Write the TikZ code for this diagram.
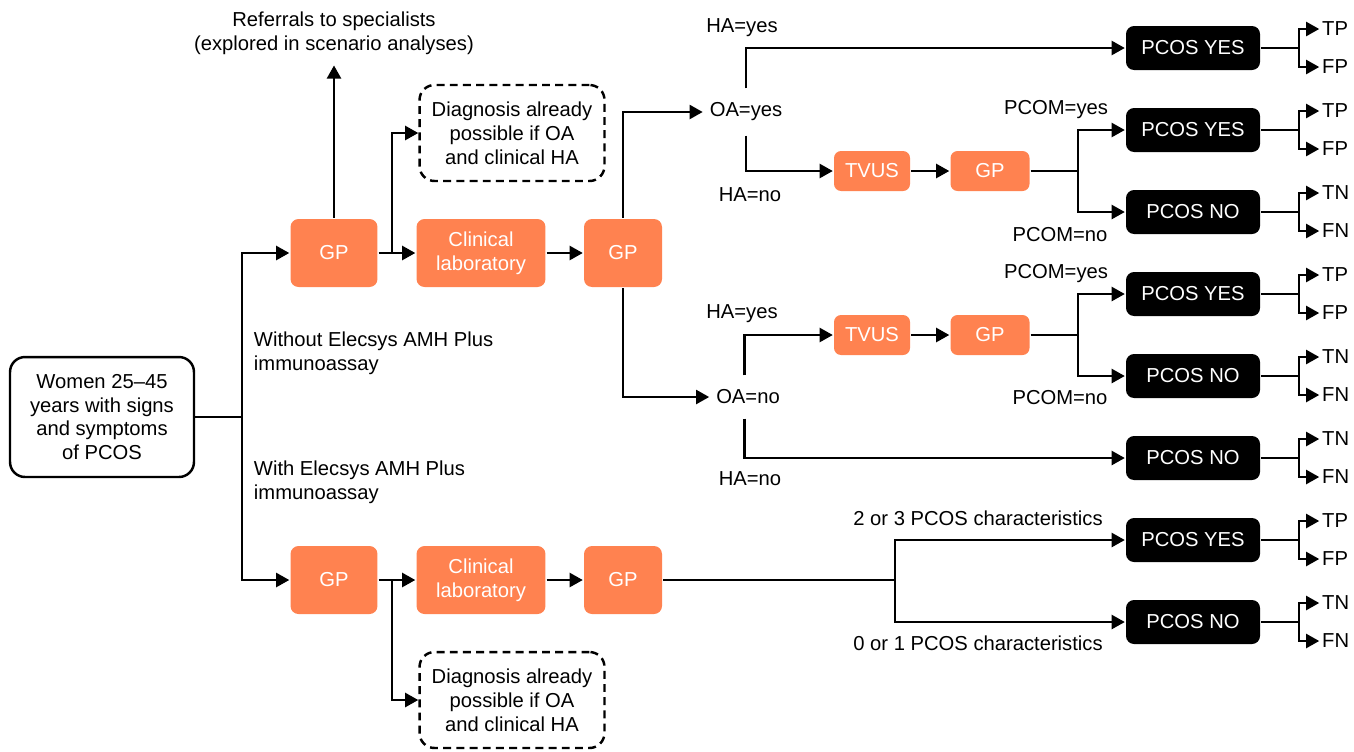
\documentclass[tikz,border=0pt]{standalone}
\usepackage{fontspec}
\setmainfont{Liberation Sans}
\usetikzlibrary{arrows.meta}
\definecolor{pcorange}{RGB}{255,130,80}
\tikzset{
  every node/.style={font=\fontsize{11.5}{13.6}\selectfont},
  arr/.style={-{Triangle[length=7.5pt,width=8pt]}},
  startbox/.style={draw,line width=1.4pt,rounded corners=0.3cm,minimum width=3.68cm,minimum height=2.4cm,align=center,inner sep=0pt},
  dashbox/.style={draw,line width=1.4pt,dash pattern=on 4.5pt off 3pt,rounded corners=0.3cm,minimum width=3.7cm,minimum height=1.92cm,align=center,inner sep=0pt},
  carebox/.style={fill=pcorange,text=white,rounded corners=0.16cm,align=center,inner sep=0pt,minimum height=1.36cm},
  testbox/.style={fill=pcorange,text=white,rounded corners=0.14cm,inner sep=0pt,minimum height=0.8cm},
  resultbox/.style={fill=black,text=white,rounded corners=0.16cm,inner sep=0pt,minimum width=2.68cm,minimum height=0.88cm},
  lbl/.style={inner sep=1pt,align=left}
}
\begin{document}
\begin{tikzpicture}[x=0.02cm,y=-0.02cm,line width=1.4pt]
   \useasboundingbox (0,0) rectangle (1354,751);

   \node[startbox] (women) at (102,417) {Women 25--45\\years with signs\\and symptoms\\of PCOS};
   \coordinate (trunk) at (242,417);

   \node[carebox,minimum width=1.74cm] (gp1) at (334,253) {GP};
   \node[carebox,minimum width=2.58cm] (lab1) at (481,253) {Clinical\\laboratory};
   \node[carebox,minimum width=1.56cm] (gp3) at (623,253) {GP};
   \node[dashbox] (dx1) at (512,133) {Diagnosis already\\possible if OA\\and clinical HA};
   \node[align=center] (ref) at (334,33) {Referrals to specialists\\(explored in scenario analyses)};
   \coordinate (split1) at (392,253);

   \node[carebox,minimum width=1.74cm] (gp2) at (334,580) {GP};
   \node[carebox,minimum width=2.58cm] (lab2) at (481,580) {Clinical\\laboratory};
   \node[carebox,minimum width=1.56cm] (gp4) at (623,580) {GP};
   \node[dashbox] (dx2) at (512,700) {Diagnosis already\\possible if OA\\and clinical HA};
   \coordinate (split2) at (392,580);

   \node[lbl,anchor=west] (without) at (251,353) {Without Elecsys AMH Plus\\immunoassay};
   \node[lbl,anchor=west] (with) at (251,482) {With Elecsys AMH Plus\\immunoassay};

   \node (oay) at (746,112) {OA=yes};
   \node (oan) at (748,397) {OA=no};
   \node (hay1) at (742,28) {HA=yes};
   \node (han1) at (750,195) {HA=no};
   \node (hay2) at (742,314) {HA=yes};
   \node (han2) at (750,479) {HA=no};

   \node[testbox,minimum width=1.52cm] (tvus1) at (872,171) {TVUS};
   \node[testbox,minimum width=1.58cm] (gp5) at (990,171) {GP};
   \node[testbox,minimum width=1.52cm] (tvus2) at (872,335) {TVUS};
   \node[testbox,minimum width=1.58cm] (gp6) at (990,335) {GP};
   \coordinate (s1) at (1078,171);
   \coordinate (s2) at (1078,335);
   \coordinate (s3) at (895,580);

   \node (pcy1) at (1056,110) {PCOM=yes};
   \node (pcn1) at (1060,235) {PCOM=no};
   \node (pcy2) at (1056,274) {PCOM=yes};
   \node (pcn2) at (1060,398) {PCOM=no};
   \node (ch23) at (978,518) {2 or 3 PCOS characteristics};
   \node (ch01) at (978,643) {0 or 1 PCOS characteristics};

   \node[resultbox] (py1) at (1193,48) {PCOS YES};
   \node[resultbox] (py2) at (1193,130) {PCOS YES};
   \node[resultbox] (pn1) at (1193,212) {PCOS NO};
   \node[resultbox] (py3) at (1193,294) {PCOS YES};
   \node[resultbox] (pn2) at (1193,376) {PCOS NO};
   \node[resultbox] (pn3) at (1193,458) {PCOS NO};
   \node[resultbox] (py4) at (1193,540) {PCOS YES};
   \node[resultbox] (pn4) at (1193,622) {PCOS NO};

   \draw (women.east) -- (trunk);
   \draw[arr] (trunk) |- (gp1.west);
   \draw[arr] (trunk) |- (gp2.west);

   \draw[arr] (gp1.north) -- ([yshift=-0.08cm]ref.south);
   \draw[arr] (gp1) -- (lab1);
   \draw[arr] (split1) |- (dx1.west);
   \draw[arr] (lab1) -- (gp3);
   \draw[arr] (gp3.north) |- (oay.west);
   \draw[arr] (gp3.south) |- (oan.west);

   \draw[arr] (gp2) -- (lab2);
   \draw[arr] (split2) |- (dx2.west);
   \draw[arr] (lab2) -- (gp4);
   \draw (gp4.east) -- (s3);
   \draw[arr] (s3) |- (py4.west);
   \draw[arr] (s3) |- (pn4.west);

   \draw[arr] ([yshift=0.15cm]oay.north) |- (py1.west);
   \draw[arr] ([yshift=-0.15cm]oay.south) |- (tvus1.west);
   \draw[arr] (tvus1) -- (gp5);
   \draw (gp5.east) -- (s1);
   \draw[arr] (s1) |- (py2.west);
   \draw[arr] (s1) |- (pn1.west);

   \draw[arr] ([xshift=-2,yshift=0.15cm]oan.north) |- (tvus2.west);
   \draw[arr] ([xshift=-2,yshift=-0.15cm]oan.south) |- (pn3.west);
   \draw[arr] (tvus2) -- (gp6);
   \draw (gp6.east) -- (s2);
   \draw[arr] (s2) |- (py3.west);
   \draw[arr] (s2) |- (pn2.west);

   \foreach \b/\u/\l in {py1/TP/FP,py2/TP/FP,pn1/TN/FN,py3/TP/FP,pn2/TN/FN,pn3/TN/FN,py4/TP/FP,pn4/TN/FN}{
     \draw (\b.east) -- ++(38,0) coordinate (\b-t);
     \node[lbl,anchor=west] (\b-u) at ([shift={(20,-19)}]\b-t) {\u};
     \node[lbl,anchor=west] (\b-l) at ([shift={(20,19)}]\b-t) {\l};
     \draw[arr] (\b-t) |- (\b-u.west);
     \draw[arr] (\b-t) |- (\b-l.west);
   }
 \end{tikzpicture}
\end{document}
